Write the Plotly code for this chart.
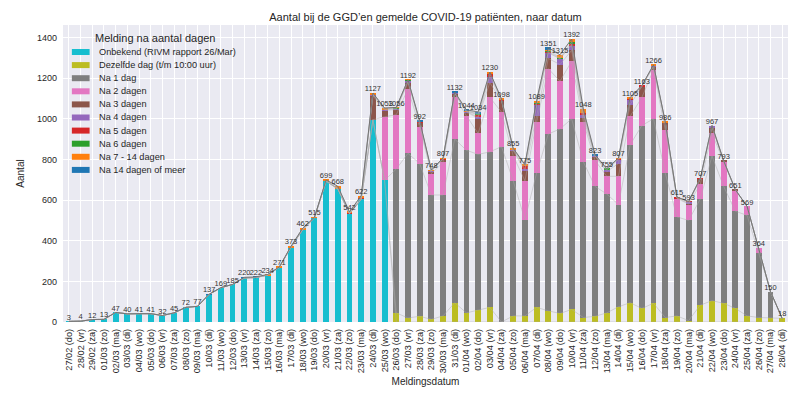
import numpy as np
import plotly.graph_objects as go

# ---------------- data ----------------
dates = ["27/02 (do)", "28/02 (vr)", "29/02 (za)", "01/03 (zo)", "02/03 (ma)", "03/03 (di)", "04/03 (wo)",
         "05/03 (do)", "06/03 (vr)", "07/03 (za)", "08/03 (zo)", "09/03 (ma)", "10/03 (di)", "11/03 (wo)",
         "12/03 (do)", "13/03 (vr)", "14/03 (za)", "15/03 (zo)", "16/03 (ma)", "17/03 (di)", "18/03 (wo)",
         "19/03 (do)", "20/03 (vr)", "21/03 (za)", "22/03 (zo)", "23/03 (ma)", "24/03 (di)", "25/03 (wo)",
         "26/03 (do)", "27/03 (vr)", "28/03 (za)", "29/03 (zo)", "30/03 (ma)", "31/03 (di)", "01/04 (wo)",
         "02/04 (do)", "03/04 (vr)", "04/04 (za)", "05/04 (zo)", "06/04 (ma)", "07/04 (di)", "08/04 (wo)",
         "09/04 (do)", "10/04 (vr)", "11/04 (za)", "12/04 (zo)", "13/04 (ma)", "14/04 (di)", "15/04 (wo)",
         "16/04 (do)", "17/04 (vr)", "18/04 (za)", "19/04 (zo)", "20/04 (ma)", "21/04 (di)", "22/04 (wo)",
         "23/04 (do)", "24/04 (vr)", "25/04 (za)", "26/04 (zo)", "27/04 (ma)", "28/04 (di)"]

onbekend = [3, 4, 12, 13, 47, 40, 41, 41, 32, 45, 72, 77, 136, 169, 185, 217, 219, 231, 270, 369, 455, 513,
            694, 655, 533, 604, 995, 697] + [0] * 34
dezelfde_dag = [0] * 28 + [45, 20, 28, 13, 30, 95, 45, 58, 72, 0, 30, 30, 72, 55, 42, 62, 22, 28, 45, 75,
                           95, 67, 92, 22, 30, 7, 83, 105, 92, 67, 30, 22, 20, 18]
na_1 = [0] * 28 + [708, 810, 752, 612, 595, 805, 800, 767, 765, 863, 665, 473, 661, 870, 908, 938, 766, 639,
                   585, 503, 777, 900, 908, 711, 487, 493, 522, 712, 575, 478, 495, 320, 130, 0]
na_2 = [0] * 27 + [313, 267, 317, 180, 105, 160, 205, 170, 103, 268, 170, 123, 192, 250, 322, 235, 283, 195,
                   128, 87, 139, 140, 138, 242, 214, 91, 80, 73, 111, 121, 103, 44, 22, 0, 0]
na_3 = [0] * 26 + [118, 33, 25, 31, 22, 12, 16, 20, 18, 75, 73, 55, 25, 50, 30, 50, 82, 54, 19, 20, 23, 63,
                   58, 53, 14, 36, 2, 5, 26, 25, 5, 3, 0, 0, 0, 0]
na_4 = [0] * 26 + [7, 3, 4, 8, 2, 2, 0, 2, 3, 6, 30, 3, 5, 8, 55, 28, 28, 26, 17, 3, 9, 20,
                   25, 1, 4, 0, 0, 6, 0, 14, 0, 0, 0, 0, 0, 0]
na_5 = [0] * 20 + [1, 0, 0, 4, 7, 10, 2, 2] + [4, 4, 1, 0, 4, 0, 2, 10, 15, 2, 2, 17, 8, 5, 3, 5, 10, 2, 1, 3,
                                              4, 4, 3, 0, 5, 2, 3, 0, 0, 0, 0, 0, 0, 0]
na_6 = [0] * 28 + [1, 1, 0, 0, 0, 0, 0, 5, 2, 0, 0, 0, 3, 8, 3, 10, 2, 0, 5, 0,
                   0, 0, 0, 0, 0, 0, 0, 0, 0, 0, 0, 0, 0, 0]
na_7_14 = [0] * 17 + [3, 1, 4, 6, 2, 5, 9, 2, 8, 5, 5] + [2, 1, 3, 4, 2, 2, 3, 4, 5, 5, 5, 5, 10, 4, 14, 14, 17,
                                                         1, 0, 4, 6, 0, 3, 3, 0, 0, 0, 0, 0, 0, 0, 0, 0, 0]
na_14_plus = [0] * 12 + [1, 0, 0, 3, 3] + [0] * 13 + [4, 0, 0, 3, 3, 6, 0, 0, 0, 0, 0, 9, 0, 0, 0, 2] + [0] * 16

series_names = ["Onbekend (RIVM rapport 26/Mar)", "Dezelfde dag (t/m 10:00 uur)", "Na 1 dag", "Na 2 dagen",
                "Na 3 dagen", "Na 4 dagen", "Na 5 dagen", "Na 6 dagen", "Na 7 - 14 dagen", "Na 14 dagen of meer"]
series_values = [onbekend, dezelfde_dag, na_1, na_2, na_3, na_4, na_5, na_6, na_7_14, na_14_plus]
series_colors = ["#17becf", "#bcbd22", "#7f7f7f", "#e377c2", "#8c564b", "#9467bd", "#d62728", "#2ca02c",
                 "#ff7f0e", "#1f77b4"]

FONT = "Liberation Sans, Arial, sans-serif"
TXT = "#262626"

fig = go.Figure()

arr = np.array(series_values, dtype=float)
cum = np.cumsum(arr, axis=0)
totals = cum[-1]

for name, vals, col in zip(series_names, series_values, series_colors):
    fig.add_trace(go.Bar(x=dates, y=vals, name=name, marker=dict(color=col, line=dict(width=0)),
                         width=0.5, showlegend=False))

# thin lines connecting each stacked level
for k in range(len(series_values) - 1):
    fig.add_trace(go.Scatter(x=dates, y=cum[k], mode="lines",
                             line=dict(color="rgba(170,170,170,0.55)", width=0.8),
                             showlegend=False, hoverinfo="skip"))

# total line with labels
fig.add_trace(go.Scatter(x=dates, y=totals, mode="lines+text",
                         line=dict(color="rgba(110,110,110,0.9)", width=1),
                         text=[str(int(t)) for t in totals], textposition="top center",
                         textfont=dict(family=FONT, size=7.5, color="#333333"),
                         showlegend=False, hoverinfo="skip"))

# ---------- layout geometry (page body has an 8px margin) ----------
OFF = 8
WIN_W, WIN_H = 800, 397
W, H = WIN_W - OFF, WIN_H - OFF
L, R, T, B = 52 - OFF, 12, 25 - OFF, 75
pw, ph = W - L - R, H - T - B


def px_x(x):
    return (x - OFF - L) / pw


def px_y(y):
    return (H - B - (y - OFF)) / ph


shapes = []
annotations = []
# custom legend
annotations.append(dict(xref="paper", yref="paper", x=px_x(82), y=px_y(38), xanchor="left", yanchor="middle",
                        text="Melding na aantal dagen", showarrow=False,
                        font=dict(family=FONT, size=11, color=TXT)))
for i, (name, col) in enumerate(zip(series_names, series_colors)):
    yc = 52 + i * 13.1
    shapes.append(dict(type="rect", xref="paper", yref="paper", x0=px_x(61), x1=px_x(79),
                       y0=px_y(yc + 3), y1=px_y(yc - 3), fillcolor=col, line=dict(width=0)))
    annotations.append(dict(xref="paper", yref="paper", x=px_x(87), y=px_y(yc), xanchor="left",
                            yanchor="middle", text=name, showarrow=False,
                            font=dict(family=FONT, size=9.2, color=TXT)))

fig.update_layout(
    width=W, height=H,
    margin=dict(l=L, r=R, t=T, b=B),
    barmode="stack",
    bargap=0.5,
    paper_bgcolor="white",
    plot_bgcolor="#eaeaf2",
    font=dict(family=FONT, color=TXT),
    title=dict(text="Aantal bij de GGD’en gemelde COVID-19 patiënten, naar datum",
               x=0.5, xref="paper", xanchor="center", y=1 - (17 - OFF) / H, yanchor="middle",
               font=dict(family=FONT, size=11, color=TXT)),
    shapes=shapes,
    annotations=annotations,
)

fig.update_xaxes(type="category", range=[-0.5, len(dates) - 0.5], tickangle=-90,
                 tickfont=dict(family=FONT, size=9.2, color=TXT), showgrid=True, gridcolor="white",
                 gridwidth=1, showline=False, zeroline=False, ticks="", ticklabelstandoff=4,
                 title=dict(text="Meldingsdatum", font=dict(family=FONT, size=10, color=TXT), standoff=5))
fig.update_yaxes(range=[0, 1461.6], tickvals=[0, 200, 400, 600, 800, 1000, 1200, 1400],
                 tickfont=dict(family=FONT, size=9, color=TXT), showgrid=True, gridcolor="white",
                 gridwidth=1, showline=False, zeroline=False, ticks="", ticklabelstandoff=5,
                 title=dict(text="Aantal", font=dict(family=FONT, size=10, color=TXT), standoff=10))

fig.write_html("out.html")
